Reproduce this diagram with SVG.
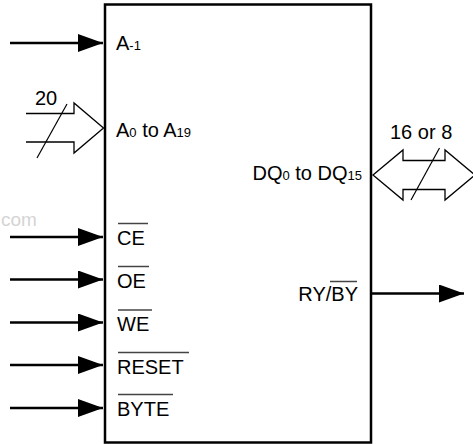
<svg xmlns="http://www.w3.org/2000/svg" width="473" height="444" viewBox="0 0 473 444">
<defs>
<style>
.t{font-family:"Liberation Sans",Arial,sans-serif;font-size:20px;fill:#000}
.s{font-size:13px}
.wire{stroke:#000;stroke-width:2.5;fill:none}
.bus{stroke:#000;stroke-width:1.3;fill:#fff;stroke-linejoin:miter}
.thin{stroke:#000;stroke-width:1.2;fill:none}
.ov{stroke:#444;stroke-width:1.5}
</style>
<marker id="ah" markerUnits="userSpaceOnUse" markerWidth="26" markerHeight="20" refX="25" refY="9" orient="auto">
<path d="M0,0 L25,9 L0,18 Z" fill="#000"/>
</marker>
</defs>
<rect width="473" height="444" fill="#fff"/>
<text x="1" y="226" style="font-family:'Liberation Sans',Arial,sans-serif;font-size:19px;fill:#d4d4d4">com</text>
<g id="chip">
<rect x="105" y="4.5" width="266" height="438" fill="none" stroke="#000" stroke-width="2.5"/>
</g>
<g id="connectors">
<line class="wire" x1="10" y1="43" x2="103" y2="43" marker-end="url(#ah)"/>
<line class="wire" x1="10" y1="237" x2="103" y2="237" marker-end="url(#ah)"/>
<line class="wire" x1="10" y1="279.5" x2="103" y2="279.5" marker-end="url(#ah)"/>
<line class="wire" x1="10" y1="322.5" x2="103" y2="322.5" marker-end="url(#ah)"/>
<line class="wire" x1="10" y1="365" x2="103" y2="365" marker-end="url(#ah)"/>
<line class="wire" x1="10" y1="408" x2="103" y2="408" marker-end="url(#ah)"/>
<line class="wire" x1="372" y1="293.5" x2="464" y2="293.5" marker-end="url(#ah)"/>
<path class="bus" d="M26,113.5 H74 V103 L103.5,128 L74,153 V142 H26"/>
<line class="thin" x1="67" y1="104" x2="37" y2="158"/>
<path class="bus" d="M373,175 L403,150 V160.5 H445 V150 L475,175 L445,200 V189.5 H403 V200 Z"/>
<line class="thin" x1="439.5" y1="148" x2="411" y2="200"/>
</g>
<g id="labels">
<text class="t" x="35" y="105">20</text>
<text class="t" x="390" y="139">16 or 8</text>
<text class="t" x="116" y="50">A<tspan class="s">-1</tspan></text>
<text class="t" x="116" y="137">A<tspan class="s">0</tspan> to A<tspan class="s">19</tspan></text>
<text class="t" x="362" y="180" text-anchor="end">DQ<tspan class="s">0</tspan> to DQ<tspan class="s">15</tspan></text>
<text class="t" x="117" y="245">CE</text>
<line class="ov" x1="118" y1="223.5" x2="148" y2="223.5"/>
<text class="t" x="117" y="288">OE</text>
<line class="ov" x1="118" y1="266.5" x2="149" y2="266.5"/>
<text class="t" x="117" y="331">WE</text>
<line class="ov" x1="118" y1="310" x2="152" y2="310"/>
<text class="t" x="117" y="374">RESET</text>
<line class="ov" x1="118" y1="352.5" x2="189" y2="352.5"/>
<text class="t" x="117" y="416">BYTE</text>
<line class="ov" x1="118" y1="394.5" x2="173" y2="394.5"/>
<text class="t" x="358" y="301" text-anchor="end">RY/BY</text>
<line class="ov" x1="330" y1="281.5" x2="357" y2="281.5"/>
</g>
</svg>
